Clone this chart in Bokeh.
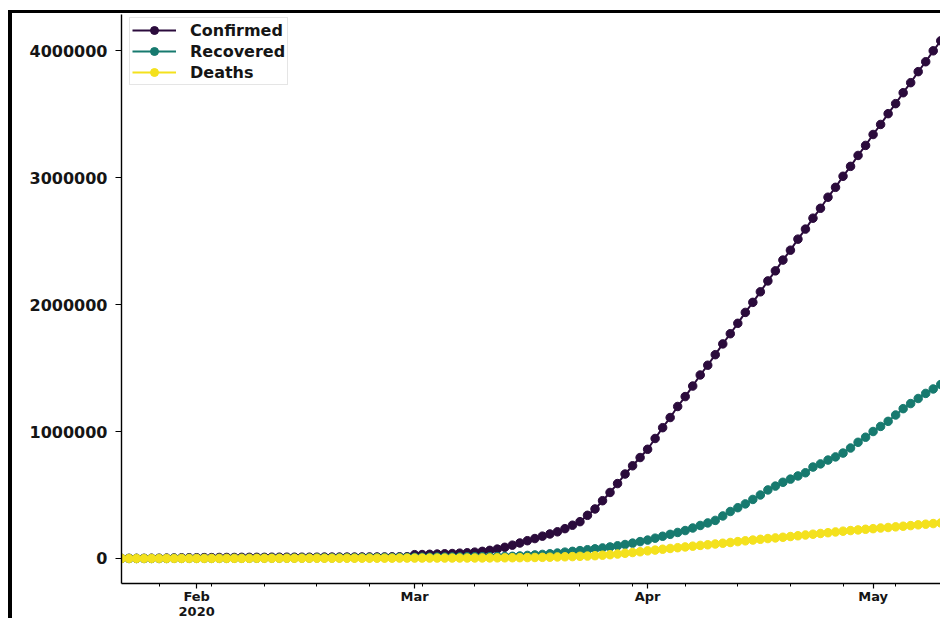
import pandas as pd
from bokeh.plotting import figure
from bokeh.models import FixedTicker, BasicTickFormatter, Range1d
from bokeh.embed import file_html
from bokeh.resources import INLINE

# ---------------- data (values in thousands) ----------------
start_date = "2020-01-22"

confirmed_k = [
    1, 1, 1, 1, 2, 2, 3, 4, 5, 6,
    6, 7, 7, 8, 8, 8, 9, 9, 9, 9, 10, 10, 10, 10, 10, 10, 10, 11, 11, 11,
    11, 11, 12, 12, 12, 12, 13, 13, 14,
    30, 31, 33, 35, 37, 39, 42, 45, 50, 56, 64, 74, 88, 105, 122, 140, 157,
    176, 193, 210, 235, 262, 290, 340, 390, 455, 520, 590, 665, 730, 795,
    860, 945,
    1030, 1110, 1197, 1275, 1358, 1445, 1522, 1605, 1690, 1770,
    1852, 1938, 2017, 2100, 2186, 2265, 2350, 2428, 2515, 2594,
    2680, 2758, 2845, 2923, 3010, 3088, 3174, 3253, 3339, 3418,
    3503, 3582, 3668, 3747, 3834, 3912, 3998, 4077, 4160,
]

recovered_k = [
    0, 0, 0, 0, 0, 0, 0, 1, 1, 1,
    1, 1, 1, 1, 1, 2, 2, 2, 2, 3, 3, 3, 3, 4, 4, 4, 5, 5, 5, 6,
    6, 6, 7, 7, 7, 8, 8, 9, 9,
    9, 10, 10, 11, 11, 12, 12, 13, 13, 14, 14, 15, 16, 17,
    20, 24, 28, 32, 37, 43, 50, 56, 62, 69, 76, 83, 91, 100, 110, 121, 133,
    145, 160, 175, 190, 205, 220, 240, 260, 280, 300,
    335, 370, 400, 430, 465, 500, 540, 570, 600, 625,
    650, 675, 720, 745, 775, 800, 830, 870, 915, 955,
    1000, 1040, 1080, 1130, 1180, 1220, 1260, 1300, 1335, 1370, 1410,
]

deaths_k = [
    0.02, 0.02, 0.03, 0.04, 0.06, 0.08, 0.13, 0.13, 0.17, 0.21,
    0.26, 0.36, 0.43, 0.49, 0.56, 0.64, 0.72, 0.81, 0.91, 1.0,
    1.1, 1.2, 1.4, 1.5, 1.7, 1.8, 1.9, 2.0, 2.1, 2.2,
    2.3, 2.4, 2.5, 2.6, 2.7, 2.8, 2.8, 2.9, 2.9,
    3.0, 3.1, 3.2, 3.3, 3.4, 3.5, 3.6, 3.8, 4.0, 4.3,
    4.6, 5.0, 5.4, 5.8, 6.5, 7.2, 8.0, 9.0, 10, 12,
    13.5, 15, 17, 19, 22, 26, 30, 35, 41, 47, 53,
    60, 66, 73, 79, 85, 91, 97, 103, 108, 114,
    120, 126, 133, 139, 145, 151, 157, 162, 167, 173,
    179, 185, 191, 197, 203, 209, 215, 220, 225, 230,
    235, 240, 244, 249, 254, 259, 265, 270, 275, 280, 285,
]

series_names = ["Confirmed", "Recovered", "Deaths"]
series_colors = ["#2b0b3c", "#177a6f", "#f4e11d"]

x_tick_dates = ["2020-02-01", "2020-03-01", "2020-04-01", "2020-05-01"]
x_tick_labels = ["Feb\n2020", "Mar", "Apr", "May"]
y_ticks = [0, 1000000, 2000000, 3000000, 4000000]

x_view_days = 109.5
y_view = (-197000, 4284000)

# ---------------- build ----------------
dates = pd.date_range(start_date, periods=len(confirmed_k), freq="D")
series = [
    [v * 1000 for v in confirmed_k],
    [v * 1000 for v in recovered_k],
    [v * 1000 for v in deaths_k],
]

x0 = pd.Timestamp(start_date)
p = figure(
    width=932, height=608,
    x_axis_type="datetime",
    x_range=Range1d(x0, x0 + pd.Timedelta(days=x_view_days)),
    y_range=Range1d(*y_view),
    output_backend="svg", toolbar_location=None,
    min_border_left=109, min_border_right=0, min_border_top=1, min_border_bottom=30,
    background_fill_color="white", border_fill_color="white",
)
p.styles = {"border-left": "4px solid black", "border-top": "3px solid black",
            "margin-top": "10px", "margin-left": "8px"}
p.outline_line_color = None
p.grid.visible = False

for name, vals, col in zip(series_names, series, series_colors):
    p.line(dates, vals, line_color=col, line_width=2, legend_label=name)
    p.scatter(dates, vals, size=8.5, fill_color=col, line_color=col, legend_label=name)

def ms(d):
    return pd.Timestamp(d).value // 10**6

mondays = pd.date_range("2020-01-27", "2020-05-11", freq="7D")
p.xaxis.ticker = FixedTicker(ticks=[ms(d) for d in x_tick_dates],
                             minor_ticks=[ms(d) for d in mondays])
p.xaxis.major_label_overrides = {ms(d): lab for d, lab in zip(x_tick_dates, x_tick_labels)}
p.yaxis.ticker = FixedTicker(ticks=y_ticks)
p.yaxis.formatter = BasicTickFormatter(use_scientific=False)

for ax in (p.xaxis[0], p.yaxis[0]):
    ax.axis_line_color = "black"
    ax.axis_line_width = 1.4
    ax.major_tick_line_color = "black"
    ax.major_tick_line_width = 1.2
    ax.major_tick_in = 0
    ax.major_label_text_font = "DejaVu Sans"
    ax.major_label_text_font_style = "bold"
    ax.major_label_text_color = "#151515"

p.yaxis.major_tick_out = 6
p.yaxis.major_label_standoff = 8
p.yaxis.major_label_text_font_size = "16px"
p.yaxis.minor_tick_line_color = None

p.xaxis.major_tick_out = 5
p.xaxis.minor_tick_out = 3
p.xaxis.minor_tick_in = 0
p.xaxis.minor_tick_line_color = "black"
p.xaxis.major_label_standoff = 0
p.xaxis.major_label_text_font_size = "13px"
p.xaxis.major_label_text_line_height = 1.0

lg = p.legend[0]
lg.location = (8, 498)
lg.margin = 0
lg.padding = 2
lg.spacing = 1
lg.label_height = 20
lg.glyph_height = 20
lg.glyph_width = 44
lg.label_standoff = 14
lg.label_text_font = "DejaVu Sans"
lg.label_text_font_style = "bold"
lg.label_text_font_size = "16px"
lg.label_text_color = "#151515"
lg.border_line_color = "#cccccc"
lg.background_fill_color = "white"
lg.background_fill_alpha = 0.8

open("out.html", "w").write(file_html(p, INLINE))
